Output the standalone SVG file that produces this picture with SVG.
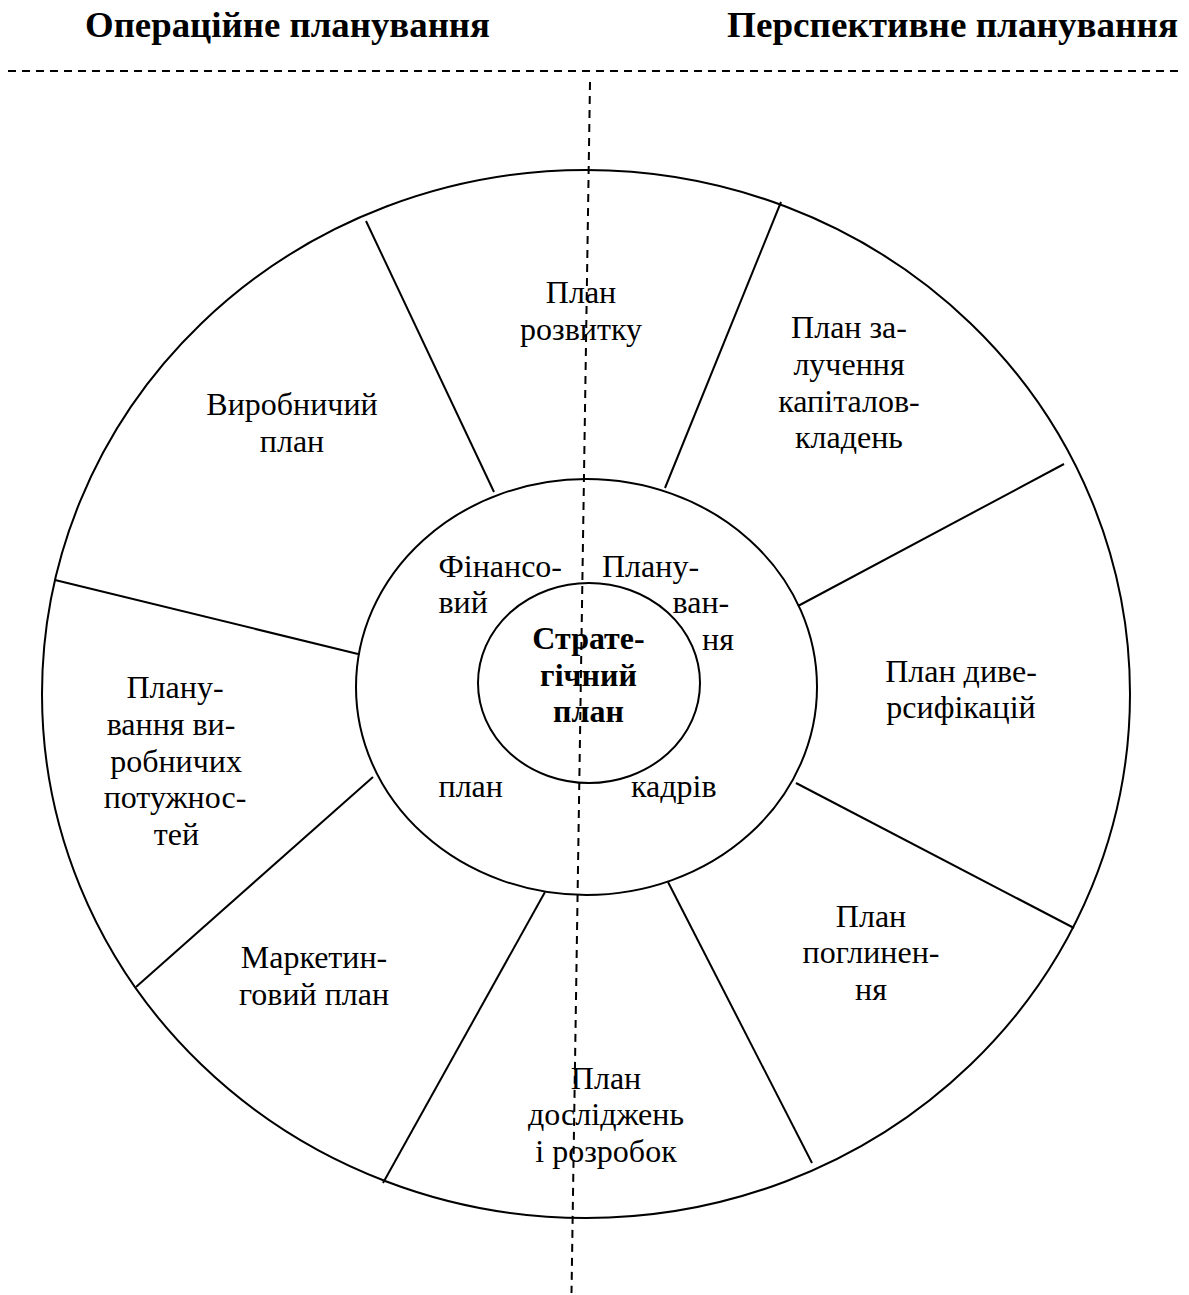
<svg xmlns="http://www.w3.org/2000/svg" width="1189" height="1295" viewBox="0 0 1189 1295">
<style>
.ring{fill:none;stroke:#000;stroke-width:2}
.div{stroke:#000;stroke-width:2}
.dash{stroke:#000;stroke-width:2;fill:none;stroke-dasharray:8 6}
.t{font-family:"Liberation Serif","Times New Roman",serif;font-size:32px;fill:#000}
.m{text-anchor:middle}
.b{font-weight:bold}
.h{font-family:"Liberation Serif","Times New Roman",serif;font-size:35px;font-weight:bold;fill:#000}
</style>
<rect width="1189" height="1295" fill="#fff"/>
<g id="headers">
<text class="h" x="85" y="37" textLength="405" lengthAdjust="spacingAndGlyphs">Операційне планування</text>
<text class="h" x="727" y="37" textLength="451" lengthAdjust="spacingAndGlyphs">Перспективне планування</text>
</g>
<g id="rings">
<ellipse class="ring" cx="586" cy="694" rx="544" ry="524"/>
<ellipse class="ring" cx="586.5" cy="687" rx="230.5" ry="208"/>
<ellipse class="ring" cx="589" cy="683" rx="111" ry="100"/>
</g>
<g id="connectors">
<line class="div" x1="366" y1="221" x2="494" y2="492"/>
<line class="div" x1="781" y1="202" x2="665" y2="488"/>
<line class="div" x1="1064" y1="464" x2="798" y2="606"/>
<line class="div" x1="796" y1="783" x2="1074" y2="928"/>
<line class="div" x1="668" y1="882" x2="812" y2="1163"/>
<line class="div" x1="545" y1="892" x2="383" y2="1183"/>
<line class="div" x1="373" y1="777" x2="136" y2="987"/>
<line class="div" x1="55" y1="580" x2="358" y2="654"/>
<line class="dash" x1="8" y1="71" x2="1179" y2="71"/>
<line class="dash" x1="590" y1="82" x2="571.5" y2="1293"/>
</g>
<g id="node-center">
<text class="t b m" x="588.5" y="649">Страте-</text>
<text class="t b m" x="588.5" y="686">гічний</text>
<text class="t b m" x="588.5" y="722">план</text>
</g>
<g id="node-finance">
<text class="t" x="438.5" y="577">Фінансо-</text>
<text class="t" x="438.5" y="613">вий</text>
<text class="t" x="438.5" y="797">план</text>
</g>
<g id="node-staff">
<text class="t" x="602" y="577">Плану-</text>
<text class="t" x="672.5" y="613">ван-</text>
<text class="t" x="702" y="650">ня</text>
<text class="t" x="631" y="797">кадрів</text>
</g>
<g id="node-development">
<text class="t m" x="581" y="303">План</text>
<text class="t m" x="581" y="340">розвитку</text>
</g>
<g id="node-capital">
<text class="t m" x="849" y="338">План за-</text>
<text class="t m" x="849" y="375">лучення</text>
<text class="t m" x="849" y="411.5">капіталов-</text>
<text class="t m" x="849" y="448">кладень</text>
</g>
<g id="node-diversification">
<text class="t m" x="961" y="681.5">План диве-</text>
<text class="t m" x="961" y="718">рсифікацій</text>
</g>
<g id="node-absorption">
<text class="t m" x="871" y="926.5">План</text>
<text class="t m" x="871" y="963">поглинен-</text>
<text class="t m" x="871" y="1000">ня</text>
</g>
<g id="node-research">
<text class="t m" x="606" y="1089">План</text>
<text class="t m" x="606" y="1125">досліджень</text>
<text class="t m" x="606" y="1161.5">і розробок</text>
</g>
<g id="node-marketing">
<text class="t m" x="314" y="968">Маркетин-</text>
<text class="t m" x="314" y="1005">говий план</text>
</g>
<g id="node-capacity">
<text class="t m" x="175" y="698">Плану-</text>
<text class="t m" x="171" y="735">вання ви-</text>
<text class="t m" x="176" y="772">робничих</text>
<text class="t m" x="175" y="808">потужнос-</text>
<text class="t m" x="176.5" y="845">тей</text>
</g>
<g id="node-production">
<text class="t m" x="292" y="415">Виробничий</text>
<text class="t m" x="292" y="451.5">план</text>
</g>
</svg>
